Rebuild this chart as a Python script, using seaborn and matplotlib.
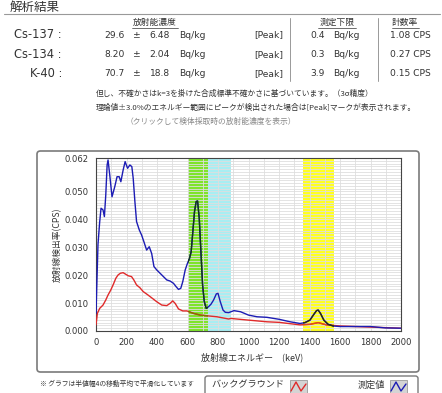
import numpy as np
import pandas as pd
import matplotlib
matplotlib.use("Agg")
import matplotlib.pyplot as plt
from matplotlib.patches import FancyBboxPatch, Rectangle
from matplotlib.lines import Line2D
import seaborn as sns

# --- data (keV, CPS) ---
meas_kev = [0, 13, 24, 33, 46, 55, 64, 73, 79, 90, 105, 123, 138, 152, 163, 178, 191, 207,
            222, 235, 244, 255, 266, 284, 299, 314, 332, 349, 365, 380, 398, 420, 442, 464,
            486, 508, 525, 541, 556, 569, 585, 600, 613, 624, 635, 646, 657, 666, 677, 688,
            699, 710, 723, 738, 754, 771, 789, 800, 815, 833, 848, 870, 905, 948, 1000, 1056,
            1121, 1200, 1273, 1338, 1370, 1403, 1425, 1446, 1457, 1472, 1494, 1522, 1555,
            1600, 1684, 1750, 1800, 1900, 2000]
meas_cps = [0.0063, 0.031, 0.039, 0.044, 0.0434, 0.041, 0.0487, 0.0595, 0.0613, 0.056,
            0.0481, 0.0517, 0.0553, 0.0553, 0.0535, 0.0577, 0.0607, 0.0583, 0.0595, 0.0589,
            0.0547, 0.0464, 0.0392, 0.0362, 0.0344, 0.032, 0.029, 0.0302, 0.0278, 0.0231,
            0.0219, 0.0207, 0.0195, 0.0183, 0.0179, 0.0171, 0.0159, 0.0149, 0.0153, 0.0177,
            0.0219, 0.0243, 0.026, 0.0284, 0.0356, 0.0428, 0.0464, 0.0466, 0.0404, 0.0284,
            0.0165, 0.0105, 0.0081, 0.0087, 0.0096, 0.0111, 0.0133, 0.0135, 0.0105, 0.0075,
            0.0067, 0.0066, 0.0073, 0.0069, 0.0057, 0.0051, 0.0049, 0.0042, 0.0033, 0.0027,
            0.003, 0.0039, 0.0057, 0.0073, 0.0075, 0.0063, 0.0039, 0.0024, 0.0018, 0.0016,
            0.0016, 0.0016, 0.0016, 0.0011, 0.001]
bg_kev = [0, 9, 24, 46, 64, 79, 97, 112, 130, 145, 160, 178, 196, 211, 233, 248, 266, 288,
          310, 336, 365, 398, 431, 464, 486, 503, 519, 541, 569, 596, 640, 684, 738, 793,
          870, 883, 1000, 1121, 1200, 1338, 1403, 1457, 1511, 1600, 1800, 2000]
bg_cps = [0.0022, 0.0063, 0.0081, 0.0093, 0.0111, 0.0129, 0.0147, 0.0165, 0.0189, 0.0201,
          0.0207, 0.0209, 0.0203, 0.0198, 0.0195, 0.0183, 0.0165, 0.0155, 0.0141, 0.0131,
          0.0119, 0.0105, 0.0093, 0.0091, 0.0099, 0.0108, 0.0099, 0.0079, 0.0072, 0.0072,
          0.0063, 0.0057, 0.0054, 0.0051, 0.0043, 0.0045, 0.0039, 0.0033, 0.0031, 0.0022,
          0.0024, 0.003, 0.0022, 0.0018, 0.0014, 0.001]

# peak windows (keV)
cs_main = (600, 735)
cs134 = (735, 885)
k40 = (1355, 1560)

nuclides = ["Cs-137 :", "Cs-134 :", "K-40 :"]
conc = ["29.6", "8.20", "70.7"]
unc = ["6.48", "2.04", "18.8"]
lod = ["0.4", "0.3", "3.9"]
rate = ["1.08 CPS", "0.27 CPS", "0.15 CPS"]

W, H = 442, 393
JP = ["Noto Sans CJK JP", "DejaVu Sans"]
sns.set_style("white")
plt.rcParams["font.family"] = JP

fig = plt.figure(figsize=(W / 100, H / 100), dpi=100)


def ft(x, y, s, **kw):
    kw.setdefault("va", "center")
    fig.text(x / W, 1 - y / H, s, **kw)


def fl(xs, ys, **kw):
    fig.add_artist(Line2D([x / W for x in xs], [1 - y / H for y in ys], **kw))


# --- header table ---
ft(10, 7, "解析結果", fontsize=9, color="#333333")
fl([4, 440], [14, 14], color="#999999", lw=0.8)
ft(155, 22, "放射能濃度", fontsize=6.3, ha="center", color="#333333")
fl([132, 178], [27.5, 27.5], color="#333333", lw=0.5)
ft(337, 22, "測定下限", fontsize=6.3, ha="center", color="#333333")
fl([318, 356], [27.5, 27.5], color="#333333", lw=0.5)
ft(405, 22, "計数率", fontsize=6.3, ha="center", color="#333333")
fl([392, 419], [27.5, 27.5], color="#333333", lw=0.5)
fl([290, 290], [18, 81], color="#999999", lw=0.7)
fl([378, 378], [18, 81], color="#999999", lw=0.7)
for i in range(3):
    y = 35 + i * 19.3
    ft(62, y, nuclides[i], fontsize=8.3, ha="right", color="#333333", family="DejaVu Sans")
    vk = dict(fontsize=6.6, color="#333333", family="DejaVu Sans")
    ft(125, y, conc[i], ha="right", **vk)
    ft(137, y, "±", ha="center", **vk)
    ft(170, y, unc[i], ha="right", **vk)
    ft(179, y, "Bq/kg", ha="left", **vk)
    ft(283, y, "[Peak]", ha="right", **vk)
    ft(325, y, lod[i], ha="right", **vk)
    ft(333, y, "Bq/kg", ha="left", **vk)
    ft(431, y, rate[i], ha="right", **vk)

ft(96, 94, "但し、不確かさはk=3を掛けた合成標準不確かさに基づいています。（3σ精度）",
   fontsize=5.6, color="#333333")
ft(96, 108, "理論値±3.0%のエネルギー範囲にピークが検出された場合は[Peak]マークが表示されます。",
   fontsize=5.6, color="#333333")
ft(211, 122, "（クリックして検体採取時の放射能濃度を表示）", fontsize=5.6, ha="center",
   color="#888888")

# --- chart frame ---
fig.add_artist(FancyBboxPatch((37 / W, 1 - 372 / H), 382 / W, 221 / H,
                              boxstyle="round,pad=0,rounding_size=0.008",
                              transform=fig.transFigure, fc="white", ec="#7a7a7a", lw=1.2,
                              zorder=0))

ax = fig.add_axes([96 / W, 1 - 331 / H, 305 / W, 173 / H])
ax.set_xlim(0, 2000)
ax.set_ylim(0, 0.062)

spans = []
for (a, b), c in zip([cs_main, cs134, k40], ["#7ee42a", "#a8eef2", "#ffff22"]):
    spans.append(ax.axvspan(a, b, color=c, lw=0, zorder=0.3))

ax.set_axisbelow(True)
ax.set_xticks(np.arange(0, 2001, 200))
ax.set_xticks(np.arange(0, 2001, 100), minor=True)
ax.set_yticks([0, 0.01, 0.02, 0.03, 0.04, 0.05, 0.062])
ax.set_yticks(np.arange(0, 0.062, 0.001), minor=True)
ax.grid(True, which="both", axis="both", color="#dedede", lw=0.6)
ax.yaxis.set_major_formatter(plt.FuncFormatter(lambda v, p: f"{v:.3f}"))
ax.tick_params(axis="both", which="major", labelsize=6.1, length=3, width=0.6,
               colors="#333333", pad=2)
ax.tick_params(axis="both", which="minor", length=0)
for lab in ax.get_xticklabels() + ax.get_yticklabels():
    lab.set_family("DejaVu Sans")
for s in ax.spines.values():
    s.set_color("#444444")
    s.set_linewidth(0.8)

meas = pd.DataFrame({"keV": meas_kev, "cps": meas_cps})
bg = pd.DataFrame({"keV": bg_kev, "cps": bg_cps})
sns.lineplot(data=bg, x="keV", y="cps", color="#e02a2a", lw=1.0, ax=ax, zorder=3)
sns.lineplot(data=meas, x="keV", y="cps", color="#1c1cb4", lw=1.0, ax=ax, zorder=4)

# darker tint where the curves cross the green / yellow windows
for sp, cb, cr in [(spans[0], "#12361a", "#8c6a00"), (spans[2], "#2a2a10", "#e25010")]:
    lr = ax.plot(bg["keV"], bg["cps"], color=cr, lw=1.0, zorder=3.5)[0]
    lr.set_clip_path(sp)
    lb = ax.plot(meas["keV"], meas["cps"], color=cb, lw=1.0, zorder=4.5)[0]
    lb.set_clip_path(sp)

ax.set_xlabel("")
ax.set_ylabel("")
ft(57, 245, "放射線検出率(CPS)", fontsize=6.3, rotation=90, ha="center", color="#333333")
ft(252, 357, "放射線エネルギー　(keV)", fontsize=6.5, ha="center", color="#333333")

# --- footer ---
ft(40, 384, "※ グラフは半値幅4の移動平均で平滑化しています", fontsize=4.9, color="#333333")
fig.add_artist(FancyBboxPatch((205 / W, 1 - 400 / H), 213 / W, 24 / H,
                              boxstyle="round,pad=0,rounding_size=0.006",
                              transform=fig.transFigure, fc="white", ec="#7a7a7a", lw=1.0))
ft(248, 385, "バックグラウンド", fontsize=6.6, ha="center", color="#333333")
ft(371, 385, "測定値", fontsize=6.6, ha="center", color="#333333")
for x0, c in [(290, "#e02a2a"), (390, "#1c1cb4")]:
    fig.add_artist(Rectangle((x0 / W, 1 - 393 / H), 17 / W, 13 / H,
                             transform=fig.transFigure, fc="#d4d4d4", ec="#9a9a9a", lw=0.6))
    fl([x0 + 1, x0 + 6, x0 + 11, x0 + 16], [391, 382, 391, 384], color=c, lw=1.0)

fig.savefig("out.png", dpi=100)
